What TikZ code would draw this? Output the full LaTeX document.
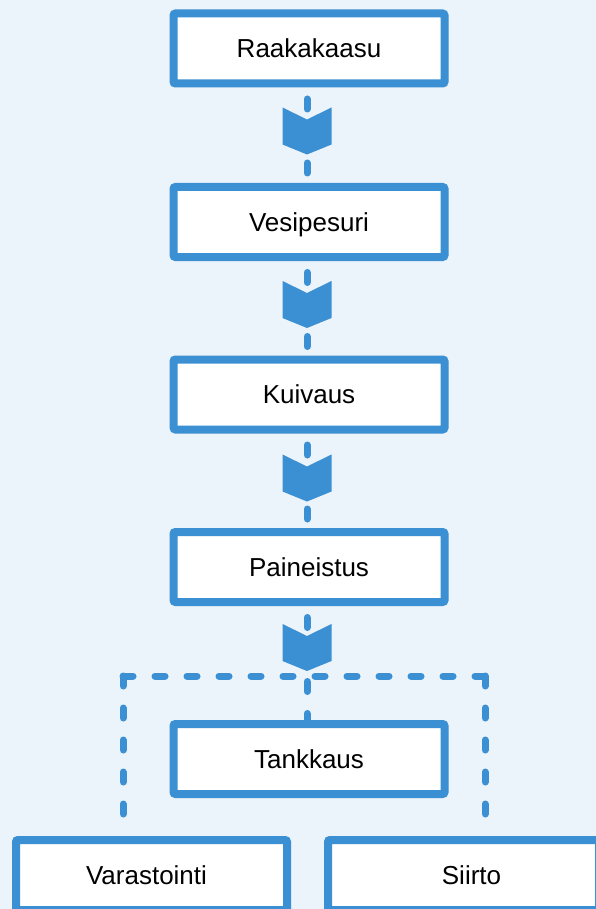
\documentclass[tikz,border=0pt]{standalone}
\usepackage{fontspec}
\setmainfont{Liberation Sans}
\usetikzlibrary{calc}
\definecolor{flowblue}{RGB}{59,143,211}
\definecolor{bgblue}{RGB}{235,243,251}
\tikzset{
  stepbox/.style={draw=flowblue, line width=8pt, fill=white, rounded corners=2pt,
    minimum width=271pt, minimum height=70pt, inner sep=0pt,
    font=\fontsize{26}{30}\selectfont, text height=18.6pt, text depth=0pt},
  dotlink/.style={draw=flowblue, line width=7pt, line cap=round, dash pattern=on 10pt off 22pt},
  chev/.pic={\fill[flowblue] (-24.5,0) -- (0,12) -- (24.5,0) -- (24.5,37) -- (0,47) -- (-24.5,37) -- cycle;}
}
\begin{document}
\begin{tikzpicture}[x=1pt,y=-1pt]
\fill[bgblue] (0,0) rectangle (596,909);
\useasboundingbox (0,0) rectangle (596,909);
\clip (0,0) rectangle (596,909);
\coordinate (spine) at (307,0);
\node[stepbox] (raw) at (309,48.5) {Raakakaasu};
\node[stepbox] (ves) at (309,222) {Vesipesuri};
\node[stepbox] (kui) at (309,394.5) {Kuivaus};
\node[stepbox] (pai) at (309,567) {Paineistus};
\node[stepbox] (tan) at (309,759) {Tankkaus};
\node[stepbox] (var) at (151.5,875) {Varastointi\hspace*{10pt}};
\node[stepbox] (sii) at (463.5,875) {\hspace*{16pt}Siirto};
% vertical flow connectors
\draw[dotlink, shorten <=11.5pt] (raw.south -| spine) -- (ves.north -| spine);
\draw[dotlink, shorten <=11.5pt] (ves.south -| spine) -- (kui.north -| spine);
\draw[dotlink, shorten <=11.5pt] (kui.south -| spine) -- (pai.north -| spine);
\draw[dotlink, shorten <=11.5pt] (pai.south -| spine) -- (tan.north -| spine);
\pic at ($(raw.south -| spine)+(0,20)$) {chev};
\pic at ($(ves.south -| spine)+(0,20)$) {chev};
\pic at ($(kui.south -| spine)+(0,21)$) {chev};
\pic at ($(pai.south -| spine)+(0,18)$) {chev};
% branching frame
\coordinate (cl) at (123,676);
\coordinate (cr) at (485,676);
\draw[dotlink] (cl) -- (cr);
\draw[dotlink, shorten >=22pt] (cl) -- (cl |- var.north);
\draw[dotlink, shorten >=22pt] (cr) -- (cr |- sii.north);
\end{tikzpicture}
\end{document}
